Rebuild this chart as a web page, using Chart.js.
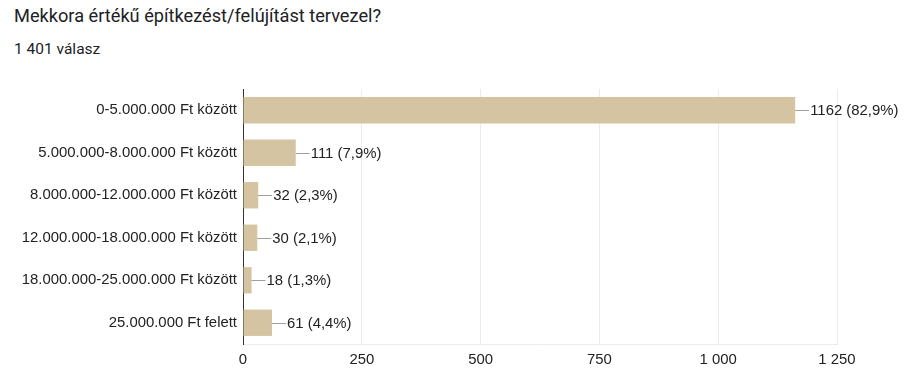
<!DOCTYPE html>
<html>
<head>
<meta charset="utf-8">
<script src="https://cdn.jsdelivr.net/npm/chart.js@4.4.0/dist/chart.umd.min.js"></script>
<style>
  body { margin: 0; background: #fff; }
  #wrap { position: relative; width: 921px; height: 384px; }
  #titulo { position: absolute; left: 14px; top: 5px; font: 18.2px Roboto, sans-serif; color: #202124; }
  #subtitulo { position: absolute; left: 14px; top: 40px; font: 15.5px Roboto, sans-serif; color: #202124; }
  canvas { position: absolute; left: 0; top: 0; }
</style>
</head>
<body>
<div id="wrap">
  <div id="titulo">Mekkora értékű építkezést/felújítást tervezel?</div>
  <div id="subtitulo">1 401 válasz</div>
  <canvas id="grafico" width="921" height="384"></canvas>
</div>
<script>
// datos
const categorias = [
  '0-5.000.000 Ft között',
  '5.000.000-8.000.000 Ft között',
  '8.000.000-12.000.000 Ft között',
  '12.000.000-18.000.000 Ft között',
  '18.000.000-25.000.000 Ft között',
  '25.000.000 Ft felett'
];
const respuestas = [1162, 111, 32, 30, 18, 61];
const porcentajes = [82.9, 7.9, 2.3, 2.1, 1.3, 4.4];
const ticksX = [0, 250, 500, 750, 1000, 1250];

const FUENTE = 'Arial, "Liberation Sans", sans-serif';
const TAM = 14.9;

// etiqueta con linea guia al final de cada barra
const etiquetasPlugin = {
  id: 'etiquetas',
  afterDatasetsDraw(chart) {
    const ctx = chart.ctx;
    const meta = chart.getDatasetMeta(0);
    ctx.save();
    meta.data.forEach((bar, i) => {
      const y = Math.round(bar.y) + 0.5;
      ctx.strokeStyle = '#a0a0a0';
      ctx.lineWidth = 1;
      ctx.beginPath();
      ctx.moveTo(bar.x, y);
      ctx.lineTo(bar.x + 14, y);
      ctx.stroke();
      ctx.fillStyle = '#222';
      ctx.font = TAM + 'px ' + FUENTE;
      ctx.textBaseline = 'middle';
      ctx.textAlign = 'left';
      const txt = respuestas[i] + ' (' + porcentajes[i].toFixed(1).replace('.', ',') + '%)';
      ctx.fillText(txt, bar.x + 15, bar.y + 1);
    });
    ctx.restore();
  }
};

new Chart(document.getElementById('grafico'), {
  type: 'bar',
  data: {
    labels: categorias,
    datasets: [{
      data: respuestas,
      backgroundColor: '#d5c4a1',
      borderWidth: 0,
      barPercentage: 0.62,
      categoryPercentage: 1
    }]
  },
  options: {
    indexAxis: 'y',
    responsive: false,
    animation: false,
    layout: { padding: { top: 89, right: 84, left: 0, bottom: 0 } },
    plugins: { legend: { display: false }, tooltip: { enabled: false } },
    scales: {
      x: {
        min: 0,
        max: 1250,
        afterBuildTicks: s => { s.ticks = ticksX.map(v => ({ value: v })); },
        afterFit: s => { s.height = 40; },
        grid: { color: '#ebebeb', drawTicks: false, lineWidth: 1 },
        border: { color: '#ebebeb' },
        ticks: {
          padding: 7,
          color: '#222',
          font: { family: FUENTE, size: TAM },
          callback: v => String(v).replace(/\B(?=(\d{3})+(?!\d))/g, ' ')
        }
      },
      y: {
        afterFit: s => { s.width = 243; },
        grid: { display: false, drawTicks: false },
        border: { color: '#333', width: 1 },
        ticks: {
          padding: 6,
          color: '#222',
          font: { family: FUENTE, size: TAM }
        }
      }
    }
  },
  plugins: [etiquetasPlugin]
});
</script>
</body>
</html>
